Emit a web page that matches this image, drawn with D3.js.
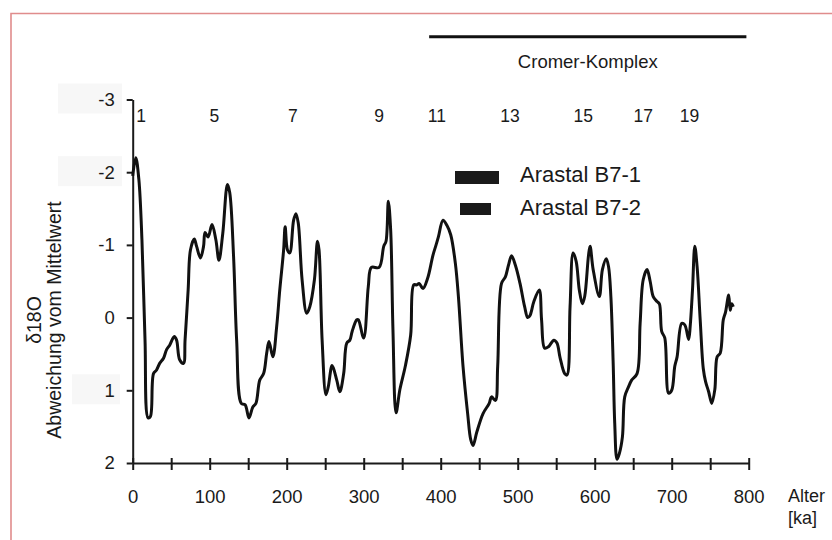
<!DOCTYPE html>
<html>
<head>
<meta charset="utf-8">
<script src="https://cdn.jsdelivr.net/npm/d3@7"></script>
<style>
  body { margin: 0; background: #fff; }
  text { font-family: "Liberation Sans", Arial, sans-serif; fill: #1a1a1a; }
</style>
</head>
<body>
<div id="chart"></div>
<script>
// Set dimensions for the figure
const width = 832;
const height = 540;

// Age in ka
const ages = [0, 4, 8, 12, 16, 20, 23, 27, 31, 35, 40, 44, 48, 54, 57, 61, 66, 68, 72, 75, 80, 83, 88, 92, 94, 98, 103, 108, 112, 117, 123, 126,
  131, 135, 141, 146, 151, 156, 160, 165, 170, 174, 177, 182, 187, 191, 196, 198, 201, 204, 209, 212, 215, 220, 226, 230, 236, 240, 242,
  246, 251, 254, 259, 265, 269, 274, 278, 282, 285, 291, 293, 300, 306, 310, 320, 326, 329, 332, 335, 338, 342, 347, 354, 361, 365, 369,
  372, 377, 383, 390, 394, 397, 403, 408, 413, 419, 423, 429, 435, 439, 442, 447, 455, 463, 466, 471, 474, 479, 484, 488, 492, 497, 503,
  509, 513, 516, 521, 528, 531, 535, 540, 547, 551, 555, 561, 564, 568, 572, 576, 580, 584, 587, 592, 594, 598, 606, 610, 615, 618, 621,
  624, 626, 629, 632, 636, 639, 644, 648, 655, 659, 663, 668, 672, 676, 681, 684, 687, 691, 696, 700, 704, 707, 713, 717, 722, 724, 727,
  730, 733, 737, 741, 744, 748, 752, 756, 759, 763, 767, 770, 774, 776, 778, 780];

// d18O deviation from mean (negative = up)
const delta = [-1.95, -2.2, -1.9, -1.07, 0.31, 1.38, 1.36, 0.77, 0.72, 0.63, 0.56, 0.44, 0.38, 0.26, 0.31, 0.58, 0.63, 0.31, -0.38, -0.93,
  -1.08, -0.98, -0.82, -0.98, -1.17, -1.11, -1.28, -1.07, -0.79, -1.16, -1.83, -1.72, -0.84, 0.31, 1.18, 1.2, 1.38, 1.23, 1.18, 0.86, 0.77,
  0.49, 0.33, 0.54, 0.12, -0.38, -0.93, -1.25, -0.93, -0.89, -1.34, -1.43, -1.3, -0.52, -0.06, -0.15, -0.52, -1.05, -0.93, 0.31, 1.06, 0.95,
  0.66, 0.86, 1.02, 0.77, 0.35, 0.31, 0.19, 0.03, 0.03, 0.28, -0.43, -0.69, -0.69, -0.98, -1.05, -1.6, -1.21, 0.17, 1.31, 0.99, 0.67, 0.24,
  -0.45, -0.45, -0.47, -0.4, -0.54, -0.86, -1.0, -1.11, -1.34, -1.27, -1.14, -0.75, -0.29, 0.67, 1.32, 1.68, 1.76, 1.57, 1.32, 1.18, 1.09,
  1.14, 0.67, -0.47, -0.56, -0.72, -0.85, -0.72, -0.47, -0.15, 0.0, -0.03, -0.22, -0.38, 0.03, 0.42, 0.4, 0.31, 0.35, 0.55, 0.77, 0.79,
  -0.15, -0.89, -0.77, -0.38, -0.19, -0.29, -0.86, -0.98, -0.66, -0.29, -0.66, -0.81, -0.7, -0.29, 0.63, 1.45, 1.95, 1.87, 1.64, 1.09, 0.95,
  0.86, 0.77, 0.08, -0.52, -0.66, -0.5, -0.29, -0.22, -0.19, 0.19, 0.28, 1.04, 1.0, 0.67, 0.54, 0.08, 0.1, 0.3, 0.12, -0.38, -0.98, -0.7,
  0.03, 0.7, 0.88, 1.02, 1.18, 0.99, 0.54, 0.49, 0.03, -0.08, -0.31, -0.1, -0.19, -0.15];

// Marine isotope stage numbers and where they sit (ka)
const stageNames = ["1", "5", "7", "9", "11", "13", "15", "17", "19"];
const stageAges = [11, 106, 208, 320, 395, 490, 585, 663, 723];

const yTicks = [-3, -2, -1, 0, 1, 2];
const xTicks = [0, 50, 100, 150, 200, 250, 300, 350, 400, 450, 500, 550, 600, 650, 700, 750, 800];
const cromerRange = [385, 797];
const legendNames = ["Arastal B7-1", "Arastal B7-2"];

const svg = d3.select("#chart")
  .append("svg")
  .attr("width", width)
  .attr("height", height);

// pinkish frame from the original page
svg.append("path")
  .attr("d", `M11,${height + 5} V13.5 H${width + 5}`)
  .attr("fill", "none")
  .attr("stroke", "#e08c8c")
  .attr("stroke-width", 1.6);

const xScale = d3.scaleLinear().domain([0, 800]).range([132.7, 748.7]);
const yScale = d3.scaleLinear().domain([-3, 2]).range([99.5, 463]);

// faint boxes behind some tick labels (scan artefacts)
svg.selectAll(".ghost")
  .data([-3, -2, 1])
  .enter()
  .append("rect")
  .attr("x", d => d === 1 ? 72 : 58)
  .attr("y", d => yScale(d) - 16)
  .attr("width", d => d === 1 ? 48 : 64)
  .attr("height", 30)
  .attr("fill", "#f7f7f7");

// y axis
const yAxis = svg.append("g")
  .attr("transform", `translate(${xScale(0)},0)`)
  .call(d3.axisLeft(yScale).tickValues(yTicks).tickSize(6).tickSizeOuter(0)
    .tickFormat(d => d3.format("d")(d).replace("−", "-")));
yAxis.select(".domain").attr("stroke", "#1a1a1a").attr("stroke-width", 2);
yAxis.selectAll(".tick line").attr("stroke", "#1a1a1a").attr("stroke-width", 2);
yAxis.selectAll(".tick text")
  .attr("x", -18)
  .attr("font-size", "18.5px")
  .attr("font-family", "Liberation Sans, Arial, sans-serif")
  .attr("fill", "#1a1a1a");

// x axis, ticks every 50, labels every 100
const xAxis = svg.append("g")
  .attr("transform", `translate(0,${yScale(2)})`)
  .call(d3.axisBottom(xScale).tickValues(xTicks).tickSizeOuter(0)
    .tickFormat(d => d % 100 === 0 ? d : ""));
xAxis.select(".domain").attr("stroke", "#1a1a1a").attr("stroke-width", 2);
xAxis.selectAll(".tick line")
  .attr("y1", -5)
  .attr("y2", 7)
  .attr("stroke", "#1a1a1a")
  .attr("stroke-width", 2);
xAxis.selectAll(".tick text")
  .attr("y", 27)
  .attr("font-size", "18.5px")
  .attr("font-family", "Liberation Sans, Arial, sans-serif")
  .attr("fill", "#1a1a1a");

// the d18O curve
const line = d3.line()
  .x((d, i) => xScale(ages[i]))
  .y(d => yScale(d))
  .curve(d3.curveCatmullRom.alpha(0.5));

svg.append("path")
  .datum(delta)
  .attr("d", line)
  .attr("fill", "none")
  .attr("stroke", "#111")
  .attr("stroke-width", 3)
  .attr("stroke-linejoin", "round");

// stage numbers
svg.selectAll(".stage")
  .data(stageNames)
  .enter()
  .append("text")
  .attr("x", (d, i) => xScale(stageAges[i]))
  .attr("y", 122)
  .attr("text-anchor", "middle")
  .attr("font-size", "17.5px")
  .text(d => d);

// Cromer-Komplex bar
svg.append("line")
  .attr("x1", xScale(cromerRange[0]))
  .attr("x2", xScale(cromerRange[1]))
  .attr("y1", 36.7)
  .attr("y2", 36.7)
  .attr("stroke", "#111")
  .attr("stroke-width", 3);
svg.append("text")
  .attr("x", (xScale(cromerRange[0]) + xScale(cromerRange[1])) / 2)
  .attr("y", 68)
  .attr("text-anchor", "middle")
  .attr("font-size", "18.5px")
  .text("Cromer-Komplex");

// legend
const swatch = [{x: 455, y: 171, w: 44, h: 13}, {x: 460, y: 203, w: 31, h: 12}];
const legend = svg.selectAll(".legend")
  .data(legendNames)
  .enter()
  .append("g");
legend.append("rect")
  .attr("x", (d, i) => swatch[i].x)
  .attr("y", (d, i) => swatch[i].y)
  .attr("width", (d, i) => swatch[i].w)
  .attr("height", (d, i) => swatch[i].h)
  .attr("fill", "#1a1a1a");
legend.append("text")
  .attr("x", 520)
  .attr("y", (d, i) => 182 + i * 33)
  .attr("font-size", "22px")
  .text(d => d);

// axis titles
const yTitle = svg.append("text")
  .attr("transform", "translate(0,320) rotate(-90)")
  .attr("text-anchor", "middle")
  .attr("font-size", "19.5px");
yTitle.append("tspan").attr("x", 0).attr("y", 41).text("δ18O");
yTitle.append("tspan").attr("x", 0).attr("y", 61).text("Abweichung vom Mittelwert");

const xTitle = svg.append("text")
  .attr("x", 788)
  .attr("y", 502)
  .attr("font-size", "18px");
xTitle.append("tspan").attr("x", 788).text("Alter");
xTitle.append("tspan").attr("x", 788).attr("dy", 22).text("[ka]");
</script>
</body>
</html>
